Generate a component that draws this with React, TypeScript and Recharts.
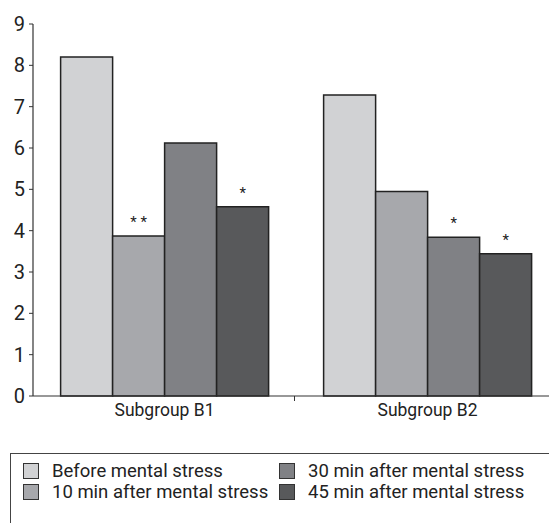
import { BarChart, Bar, XAxis, YAxis, LabelList } from 'recharts'

const groups = ['Subgroup B1', 'Subgroup B2']
const before = [8.2, 7.28]
const min10 = [3.87, 4.95]
const min30 = [6.12, 3.84]
const min45 = [4.58, 3.44]
const marks10 = ['* *', '']
const marks30 = ['', '*']
const marks45 = ['*', '*']
const yTicks = [0, 1, 2, 3, 4, 5, 6, 7, 8, 9]

const series = [
  { key: 'before', name: 'Before mental stress', color: '#d1d2d4', marks: null },
  { key: 'min10', name: '10 min after mental stress', color: '#a7a8ac', marks: 'm10' },
  { key: 'min30', name: '30 min after mental stress', color: '#808185', marks: 'm30' },
  { key: 'min45', name: '45 min after mental stress', color: '#58595b', marks: 'm45' },
]

const data = groups.map((g, i) => ({
  group: g,
  before: before[i],
  min10: min10[i],
  min30: min30[i],
  min45: min45[i],
  m10: marks10[i],
  m30: marks30[i],
  m45: marks45[i],
}))

const font = 'Roboto, "Liberation Sans", sans-serif'

export default function App() {
  const legendOrder = [series[0], series[2], series[1], series[3]]
  return (
    <div style={{ position: 'absolute', left: 0, top: 0, width: 549, height: 523, overflow: 'hidden', background: '#fff', fontFamily: font }}>
      <BarChart width={559} height={440} data={data} margin={{ top: 24, right: 0, left: 0, bottom: 0 }} barCategoryGap="10.5%" barGap={0}>
        <XAxis
          dataKey="group"
          height={44}
          stroke="#333"
          tick={{ fill: '#222', fontSize: 17.5, fontFamily: font }}
          tickLine={false}
          axisLine={{ stroke: '#333', strokeWidth: 1.2 }}
        />
        <YAxis
          width={33}
          domain={[0, 9]}
          ticks={yTicks}
          interval={0}
          stroke="#333"
          tickSize={4}
          tickMargin={4}
          tick={{ fill: '#222', fontSize: 20, fontFamily: font }}
          axisLine={{ stroke: '#333', strokeWidth: 1.2 }}
        />
        {series.map((s) => (
          <Bar key={s.key} dataKey={s.key} fill={s.color} stroke="#222" strokeWidth={1.5} isAnimationActive={false}>
            {s.marks && (
              <LabelList dataKey={s.marks} position="top" offset={9} fill="#222" fontSize={15} fontFamily={font} />
            )}
          </Bar>
        ))}
      </BarChart>
      <div style={{ position: 'absolute', left: 294, top: 396, width: 1, height: 5, background: '#333' }} />
      <div
        style={{
          position: 'absolute',
          left: 10,
          top: 453,
          width: 560,
          height: 90,
          border: '1px solid #444',
          boxSizing: 'border-box',
        }}
      >
        <div style={{ display: 'grid', gridTemplateColumns: '256px 280px', rowGap: 0, paddingLeft: 12, paddingTop: 6 }}>
          {legendOrder.map((s) => (
            <div key={s.key} style={{ display: 'flex', alignItems: 'center', height: 21, fontSize: 18.5, color: '#222' }}>
              <span style={{ width: 14, height: 14, background: s.color, border: '1.5px solid #333', marginRight: 13 }} />
              {s.name}
            </div>
          ))}
        </div>
      </div>
    </div>
  )
}
